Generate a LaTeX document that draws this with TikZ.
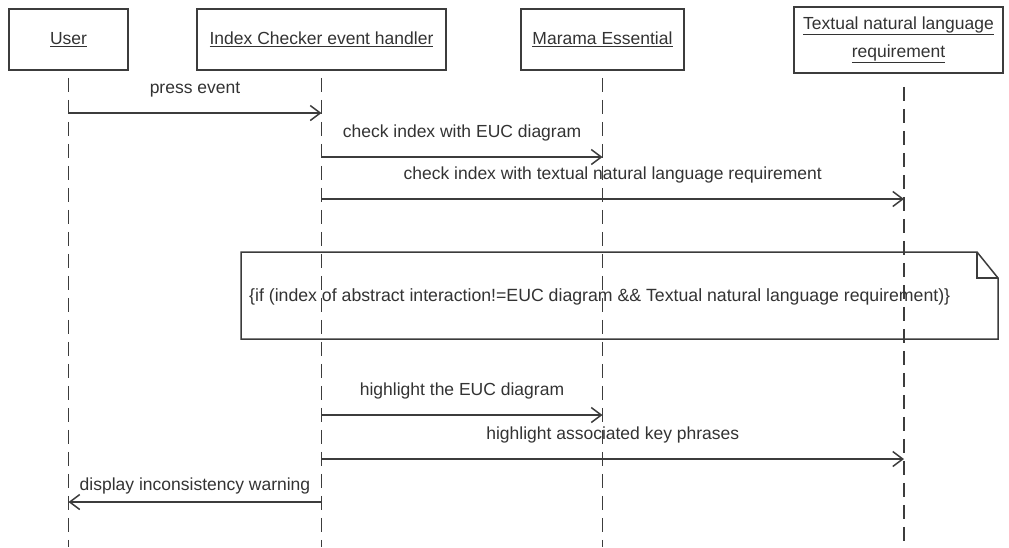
\documentclass[tikz,border=0pt]{standalone}
\usepackage{fontspec}
\setmainfont{Liberation Sans}
\usepackage{xcolor}
\definecolor{LineGray}{HTML}{3C3C3C}
\definecolor{TextGray}{HTML}{333333}
\usepackage{tikz}
\usetikzlibrary{calc, arrows.meta}

\begin{document}
\begin{tikzpicture}[
    x=1pt, y=-1pt,
    obj/.style={draw=LineGray, line width=1.6pt, minimum height=61pt, align=center,
                text=TextGray, font=\fontsize{17.5}{28}\selectfont, inner sep=2pt},
    life/.style={draw=LineGray, line width=1.3pt, dash pattern=on 14pt off 8pt},
    msg/.style={-{Straight Barb[length=10pt,width=15pt]}, line width=1.5pt, color=LineGray},
    lbl/.style={above=#1, text=TextGray, font=\fontsize{17.5}{21}\selectfont, inner sep=2pt},
    lbl/.default=13pt
  ]
    \useasboundingbox (0,0) rectangle (1009,547);

    % objects
    \node[obj, minimum width=119pt] (user) at (68.5,39.5) {\underline{User}};
    \node[obj, minimum width=249pt] (ich) at (321.5,39.5) {\underline{Index Checker event handler}};
    \node[obj, minimum width=163pt] (mes) at (602.5,39.5) {\underline{Marama Essential}};
    \node[obj, minimum width=209pt, minimum height=66pt] (txt) at (898.5,40)
        {\underline{Textual natural language}\\\underline{requirement}};

    % lifelines
    \coordinate (userEnd) at (68.5,547);
    \coordinate (ichEnd) at (321.5,547);
    \coordinate (mesEnd) at (602.5,547);
    \coordinate (txtEnd) at (904,547);
    \draw[life, shorten <=7pt] (user.south) -- (userEnd);
    \draw[life, shorten <=7pt] (ich.south) -- (ichEnd);
    \draw[life, shorten <=7pt] (mes.south) -- (mesEnd);
    \draw[life, shorten <=13pt] (txt.south -| txtEnd) -- (txtEnd);

    % messages
    \draw[msg] (user |- 0,113) -- node[lbl] {press event} (ich |- 0,113);
    \draw[msg] (ich |- 0,157) -- node[lbl] {check index with EUC diagram} (mes |- 0,157);
    \draw[msg] (ich |- 0,199) -- node[lbl] {check index with textual natural language requirement} (txtEnd |- 0,199);

    % condition note
    \draw[draw=LineGray, line width=1.5pt] (241,252) -- (977,252) -- (998,278) -- (998,339) -- (241,339) -- cycle;
    \draw[draw=LineGray, line width=1.5pt] (977,252) -- (977,278) -- (998,278);
    \node[anchor=west, inner sep=0pt, text=TextGray, font=\fontsize{17.7}{21}\selectfont] (cond) at (249,297)
        {\{if (index of abstract interaction!=EUC diagram \&\& Textual natural language requirement)\}};

    \draw[msg] (ich |- 0,415) -- node[lbl] {highlight the EUC diagram} (mes |- 0,415);
    \draw[msg] (ich |- 0,459) -- node[lbl] {highlight associated key phrases} (txtEnd |- 0,459);
    \draw[msg] (ich |- 0,502) -- node[lbl=5pt] {display inconsistency warning} (user |- 0,502);
\end{tikzpicture}
\end{document}
